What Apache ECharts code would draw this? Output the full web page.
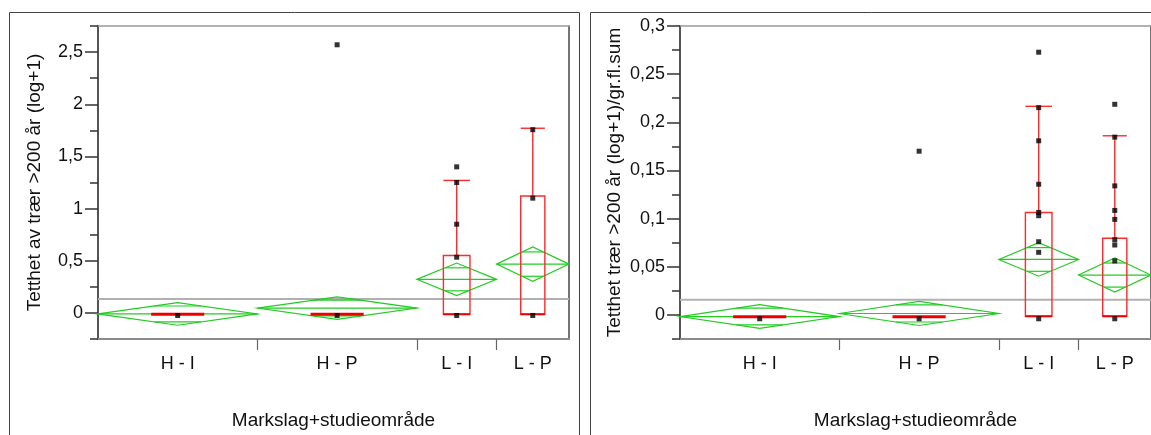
<!DOCTYPE html>
<html><head><meta charset="utf-8">
<script src="https://cdn.jsdelivr.net/npm/echarts@6/dist/echarts.min.js"></script>
<style>html,body{margin:0;padding:0;background:#fff}#c{width:1151px;height:435px}</style>
</head><body><div id="c"></div>
<script>
// ---- data ----
const categories = ['H - I', 'H - P', 'L - I', 'L - P'];
const groupN = [22, 22, 11, 10];

// Panel A: Tetthet av trær >200 år (log+1)
const meanA = [-0.01, 0.046, 0.322, 0.468];
const ciA = [0.108, 0.107, 0.156, 0.165];
const q1A = [-0.013, -0.013, -0.013, -0.013];
const medA = [-0.013, -0.013, -0.013, -0.013];
const q3A = [-0.013, -0.013, 0.55, 1.12];
const whiskerA = [-0.013, -0.013, 1.27, 1.77];
const pointsA = [
  [-0.025],
  [-0.025, 2.57],
  [-0.025, 0.534, 0.85, 1.25, 1.40],
  [-0.025, 1.10, 1.756]
];
const grandMeanA = 0.134;
const majorTicksA = [0, 0.5, 1, 1.5, 2, 2.5];
const minorTicksA = [-0.25, 0, 0.25, 0.5, 0.75, 1, 1.25, 1.5, 1.75, 2, 2.25, 2.5, 2.75];

// Panel B: Tetthet trær >200 år (log+1)/gr.fl.sum
const meanB = [-0.0017, 0.0015, 0.0576, 0.0414];
const ciB = [0.0123, 0.0125, 0.0174, 0.0177];
const q1B = [-0.0018, -0.0018, -0.0014, -0.0014];
const medB = [-0.0018, -0.0018, -0.0014, -0.0014];
const q3B = [-0.0018, -0.0018, 0.1064, 0.0796];
const whiskerB = [-0.0018, -0.0018, 0.2166, 0.186];
const pointsB = [
  [-0.004],
  [-0.004, 0.170],
  [-0.004, 0.065, 0.076, 0.103, 0.1064, 0.1357, 0.1808, 0.2152, 0.2728],
  [-0.004, 0.0561, 0.0726, 0.0781, 0.0992, 0.1085, 0.134, 0.1846, 0.2187]
];
const grandMeanB = 0.0158;
const majorTicksB = [0, 0.05, 0.1, 0.15, 0.2, 0.25, 0.3];
const minorTicksB = [-0.025, 0, 0.025, 0.05, 0.075, 0.1, 0.125, 0.15, 0.175, 0.2, 0.225, 0.25, 0.275, 0.3];

// ---- derived group layout (widths proportional to n) ----
const total = groupN.reduce((a, b) => a + b, 0);
const starts = [], ends = [], centers = [];
groupN.reduce((acc, n) => { starts.push(acc); ends.push(acc + n); centers.push(acc + n / 2); return acc + n; }, 0);
const bounds = ends.slice(0, -1);

const GREEN = '#22cc22', RED = '#ff2a2a';
const FONT = 'Liberation Sans, Arial, sans-serif';
const fmt = v => String(Math.round(v * 1000) / 1000).replace('.', ',');
const catFmt = v => { const i = centers.findIndex(c => Math.abs(c - v) < 1e-6); return i >= 0 ? categories[i] : ''; };

function diamondRender(params, api) {
  const x0 = api.value(0), x1 = api.value(1), m = api.value(2), c = api.value(3);
  const xc = (x0 + x1) / 2;
  const P = (x, y) => api.coord([x, y]);
  const k = 1 / Math.SQRT2;
  const hw = (1 - k) * (x1 - x0) / 2;
  const ls = { stroke: GREEN, lineWidth: 1.2, fill: null };
  const line = (a, b) => ({ type: 'line', shape: { x1: a[0], y1: a[1], x2: b[0], y2: b[1] }, style: ls });
  return { type: 'group', children: [
    { type: 'polygon', shape: { points: [P(x0, m), P(xc, m + c), P(x1, m), P(xc, m - c)] }, style: ls },
    line(P(x0, m), P(x1, m)),
    line(P(xc - hw, m + c * k), P(xc + hw, m + c * k)),
    line(P(xc - hw, m - c * k), P(xc + hw, m - c * k))
  ] };
}

function boxRender(params, api) {
  const x0 = api.value(0), x1 = api.value(1);
  const q1 = api.value(2), med = api.value(3), q3 = api.value(4), wh = api.value(5);
  const xc = (x0 + x1) / 2, w = (x1 - x0) / 6;
  const P = (x, y) => api.coord([x, y]);
  const ch = [];
  const ls = { stroke: RED, lineWidth: 1.4, fill: null };
  if (q3 > q1) {
    const a = P(xc - w, q3), b = P(xc + w, q1);
    ch.push({ type: 'rect', shape: { x: a[0], y: a[1], width: b[0] - a[0], height: b[1] - a[1] }, style: ls });
  }
  const m0 = P(xc - w, med), m1 = P(xc + w, med);
  ch.push({ type: 'line', shape: { x1: m0[0], y1: m0[1], x2: m1[0], y2: m1[1] }, style: { stroke: '#ee0000', lineWidth: q3 > q1 ? 2 : 3 } });
  if (wh > q3) {
    const t = P(xc, wh), bt = P(xc, q3), c0 = P(xc - w, wh), c1 = P(xc + w, wh);
    ch.push({ type: 'line', shape: { x1: t[0], y1: t[1], x2: bt[0], y2: bt[1] }, style: ls });
    ch.push({ type: 'line', shape: { x1: c0[0], y1: c0[1], x2: c1[0], y2: c1[1] }, style: ls });
  }
  return { type: 'group', children: ch };
}

function panel(xi, yi, mean, ci, q1, med, q3, wh, pts, gm) {
  return [
    { type: 'line', xAxisIndex: xi, yAxisIndex: yi, data: [[0, gm], [total, gm]], symbol: 'none',
      lineStyle: { color: '#b0b0b0', width: 2 }, silent: true, z: 1 },
    { type: 'custom', xAxisIndex: xi, yAxisIndex: yi, renderItem: diamondRender, z: 2,
      data: categories.map((_, i) => [starts[i], ends[i], mean[i], ci[i]]) },
    { type: 'custom', xAxisIndex: xi, yAxisIndex: yi, renderItem: boxRender, z: 3,
      data: categories.map((_, i) => [starts[i], ends[i], q1[i], med[i], q3[i], wh[i]]) },
    { type: 'scatter', xAxisIndex: xi, yAxisIndex: yi, symbol: 'rect', symbolSize: 5, z: 4,
      itemStyle: { color: '#000' },
      data: pts.flatMap((arr, i) => arr.map(v => [centers[i], v])) }
  ];
}

function xAxes(gi, name) {
  return [
    { type: 'value', gridIndex: gi, min: 0, max: total, position: 'bottom',
      name: name, nameLocation: 'middle', nameGap: 72,
      nameTextStyle: { fontSize: 19, color: '#111', fontFamily: FONT },
      axisLine: { show: true, onZero: false, lineStyle: { color: '#8a8a8a', width: 2 } },
      axisTick: { show: true, customValues: bounds, length: 11, lineStyle: { color: '#666', width: 1.2 } },
      axisLabel: { show: true, customValues: centers, formatter: catFmt, margin: 16, fontSize: 18, color: '#111', fontFamily: FONT },
      splitLine: { show: false } },
    { type: 'value', gridIndex: gi, min: 0, max: total, position: 'top',
      axisLine: { show: true, onZero: false, lineStyle: { color: '#999', width: 1.5 } },
      axisTick: { show: false }, axisLabel: { show: false }, splitLine: { show: false } }
  ];
}

function yAxes(gi, name, min, max, major, minor, gap) {
  return [
    { type: 'value', gridIndex: gi, min, max, position: 'left',
      name, nameLocation: 'middle', nameGap: gap, nameRotate: 90,
      nameTextStyle: { fontSize: 19, color: '#111', fontFamily: FONT },
      axisLine: { show: true, onZero: false, lineStyle: { color: '#555', width: 2 } },
      axisTick: { show: true, customValues: major, length: 13, lineStyle: { color: '#333', width: 1.5 } },
      axisLabel: { show: true, customValues: major, formatter: fmt, margin: 15, fontSize: 18, color: '#111', fontFamily: FONT },
      splitLine: { show: false } },
    { type: 'value', gridIndex: gi, min, max, position: 'right',
      axisLine: { show: true, onZero: false, lineStyle: { color: '#444', width: 1.5 } },
      axisTick: { show: false }, axisLabel: { show: false }, splitLine: { show: false } },
    { type: 'value', gridIndex: gi, min, max, position: 'left', offset: 0,
      axisLine: { show: false, onZero: false },
      axisTick: { show: true, customValues: minor, length: 8, lineStyle: { color: '#333', width: 1.5 } },
      axisLabel: { show: false }, splitLine: { show: false } }
  ];
}

const yA = yAxes(0, 'Tetthet av trær >200 år (log+1)', -0.25, 2.75, majorTicksA, minorTicksA, 54);
const yB = yAxes(1, 'Tetthet trær >200 år (log+1)/gr.fl.sum', -0.025, 0.3, majorTicksB, minorTicksB, 56);

const chart = echarts.init(document.getElementById('c'), null, { renderer: 'canvas' });
const seriesA = panel(0, 0, meanA, ciA, q1A, medA, q3A, whiskerA, pointsA, grandMeanA);
const seriesB = panel(2, 3, meanB, ciB, q1B, medB, q3B, whiskerB, pointsB, grandMeanB);

chart.setOption({
  animation: false,
  backgroundColor: '#fff',
  grid: [
    { left: 98, top: 26, width: 471, height: 315 },
    { left: 680, top: 26, width: 471, height: 315 }
  ],
  graphic: [
    { type: 'rect', shape: { x: 9.5, y: 12.5, width: 570, height: 440 }, style: { fill: null, stroke: '#444', lineWidth: 1 }, silent: true },
    { type: 'rect', shape: { x: 590.5, y: 12.5, width: 600, height: 440 }, style: { fill: null, stroke: '#444', lineWidth: 1 }, silent: true }
  ],
  xAxis: [...xAxes(0, 'Markslag+studieområde'), ...xAxes(1, 'Markslag+studieområde')],
  yAxis: [...yA, ...yB],
  series: [...seriesA, ...seriesB]
});
</script>
</body></html>
